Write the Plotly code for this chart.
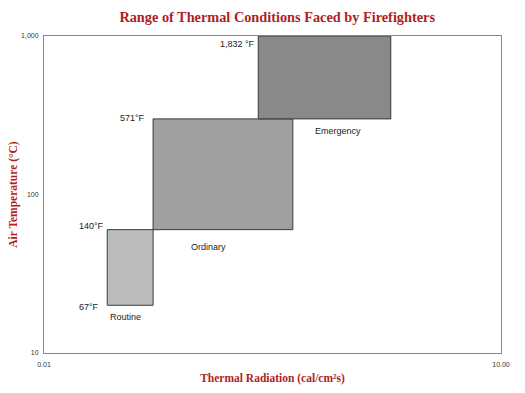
import math
import plotly.graph_objects as go

# Data
conditions = ["Routine", "Ordinary", "Emergency"]
rad_low = [0.026, 0.052, 0.255]      # cal/cm²s
rad_high = [0.052, 0.43, 1.89]
temp_low = [20, 60, 300]             # °C
temp_high = [60, 300, 1000]
fills = ["#bcbcbc", "#a0a0a0", "#898989"]

temp_marks_c = [20, 60, 300, 1000]
temp_marks_f = ["67°F", "140°F", "571°F", "1,832 °F"]

y_tickvals = [10, 100, 1000]
y_ticktext = ["10", "100", "1,000"]
x_tickvals = [0.01, 10]
x_ticktext = ["0.01", "10.00"]

RED = "#B01E24"
fig = go.Figure()

for i, name in enumerate(conditions):
    x0, x1, y0, y1 = rad_low[i], rad_high[i], temp_low[i], temp_high[i]
    fig.add_trace(go.Scatter(
        x=[x0, x1, x1, x0, x0], y=[y0, y0, y1, y1, y0],
        mode="lines", fill="toself", fillcolor=fills[i],
        line=dict(color="#3a3a3a", width=1), hoverinfo="skip", showlegend=False))

# Temperature (°F) labels at the left of each box corner
label_x = [rad_low[0], rad_low[0], rad_low[1], rad_low[2]]
shifts = [(-6, -2), (-1, 4), (-6, 1), (-1, -8)]
for xv, yv, txt, (dx, dy) in zip(label_x, temp_marks_c, temp_marks_f, shifts):
    fig.add_annotation(x=math.log10(xv), y=math.log10(yv), text=txt, showarrow=False,
                       xanchor="right", yanchor="middle", xshift=dx, yshift=dy,
                       font=dict(family="Liberation Sans, Arial", size=9, color="#222"))

# Category labels
cat_anchor_x = [rad_low[0], rad_low[1], rad_high[1]]
cat_anchor_y = [temp_low[0], temp_low[1], temp_low[2]]
cat_shifts = [(1, -12), (36, -17), (20, -12)]
for name, xv, yv, (dx, dy) in zip(conditions, cat_anchor_x, cat_anchor_y, cat_shifts):
    fig.add_annotation(x=math.log10(xv), y=math.log10(yv), text=name, showarrow=False,
                       xanchor="left", yanchor="middle", xshift=dx, yshift=dy,
                       font=dict(family="Liberation Sans, Arial", size=9, color="#222"))

fig.update_layout(
    width=525, height=393,
    margin=dict(l=44, r=24, t=36, b=40, autoexpand=False),
    paper_bgcolor="white", plot_bgcolor="white",
    title=dict(text="<b>Range of Thermal Conditions Faced by Firefighters</b>",
               x=0.528, xanchor="center", y=0.957, yanchor="middle",
               font=dict(family="Liberation Serif, Times New Roman, serif", size=14.3, color=RED)),
    xaxis=dict(type="log", range=[-2, 1], tickvals=x_tickvals, ticktext=x_ticktext,
               showgrid=False, zeroline=False, showline=True, linecolor="#888", linewidth=1,
               mirror=True, ticks="", automargin=False, ticklabelstandoff=5,
               tickfont=dict(family="Liberation Sans, Arial", size=7, color="#333"),
               title=dict(text="<b>Thermal Radiation (cal/cm²s)</b>", standoff=6,
                          font=dict(family="Liberation Serif, Times New Roman, serif", size=11.5, color=RED))),
    yaxis=dict(type="log", range=[1, 3], tickvals=y_tickvals, ticktext=y_ticktext,
               showgrid=False, zeroline=False, showline=True, linecolor="#888", linewidth=1,
               mirror=True, ticks="", automargin=False, ticklabelstandoff=3,
               tickfont=dict(family="Liberation Sans, Arial", size=7, color="#333"),
               title=dict(text="<b>Air Temperature (°C)</b>", standoff=1,
                          font=dict(family="Liberation Serif, Times New Roman, serif", size=11.5, color=RED))),
)

fig.write_html("out.html", config={"displayModeBar": False},
               post_script="document.body.style.margin='0';")
